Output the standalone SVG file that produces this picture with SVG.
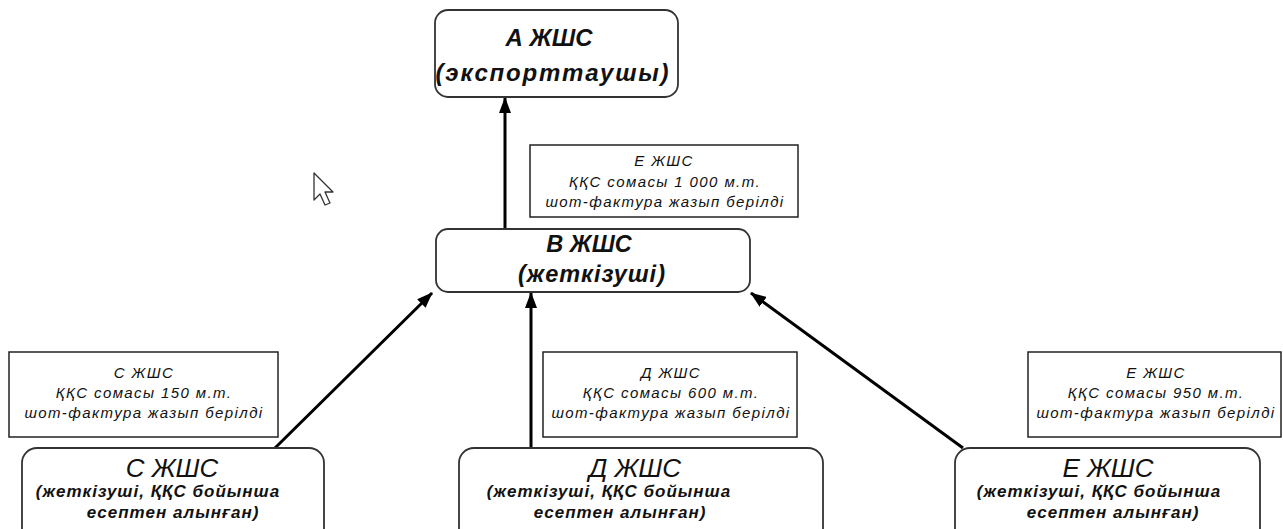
<svg xmlns="http://www.w3.org/2000/svg" width="1283" height="529" viewBox="0 0 1283 529">
<style>
.node{fill:#fff;stroke:#333;stroke-width:1.8}
.lbl{fill:#fff;stroke:#222;stroke-width:1.5}
.conn{stroke:#000;stroke-width:3;fill:none}
text{font-family:"Liberation Sans",Arial,sans-serif;font-style:italic;fill:#111;text-anchor:middle}
.big{font-size:24px;font-weight:bold}
.wide{letter-spacing:1.8px}
.mid{font-size:23.5px;font-weight:bold}
.midw{font-size:23.5px;font-weight:bold;letter-spacing:1px}
.head{font-size:26px}
.sub{font-size:17px;font-weight:bold;letter-spacing:1px}
.small{font-size:15px;letter-spacing:1.4px}
</style>
<defs>
<marker id="ah" markerUnits="userSpaceOnUse" markerWidth="16" markerHeight="12" refX="15" refY="6" orient="auto">
<path d="M0,0 L16,6 L0,12 z" fill="#000"/>
</marker>
</defs>
<rect width="1283" height="529" fill="#fff"/>
<g id="connectors">
<line class="conn" x1="505" y1="229" x2="505" y2="98" marker-end="url(#ah)"/>
<line class="conn" x1="275" y1="448" x2="432" y2="293" marker-end="url(#ah)"/>
<line class="conn" x1="531" y1="448" x2="531" y2="293" marker-end="url(#ah)"/>
<line class="conn" x1="963" y1="448" x2="751" y2="293" marker-end="url(#ah)"/>
</g>
<g id="nodeA">
<rect class="node" x="435" y="10" width="243" height="87" rx="13"/>
<text class="big" x="549" y="46">А ЖШС</text>
<text class="big wide" x="553" y="81">(экспорттаушы)</text>
</g>
<g id="nodeB">
<rect class="node" x="436" y="229" width="314" height="63" rx="12"/>
<text class="mid" x="589" y="252">В ЖШС</text>
<text class="midw" x="592" y="282">(жеткізуші)</text>
</g>
<g id="labelE_top">
<rect class="lbl" x="530" y="145" width="268" height="72"/>
<text class="small" x="664" y="166">Е ЖШС</text>
<text class="small" x="665" y="187">ҚҚС сомасы 1 000 м.т.</text>
<text class="small" x="665" y="207">шот-фактура жазып берілді</text>
</g>
<g id="labelC">
<rect class="lbl" x="9" y="352" width="269" height="85"/>
<text class="small" x="144" y="378">С ЖШС</text>
<text class="small" x="144" y="398">ҚҚС сомасы 150 м.т.</text>
<text class="small" x="144" y="418">шот-фактура жазып берілді</text>
</g>
<g id="labelD">
<rect class="lbl" x="543" y="352" width="254" height="85"/>
<text class="small" x="671" y="378">Д ЖШС</text>
<text class="small" x="671" y="398">ҚҚС сомасы 600 м.т.</text>
<text class="small" x="671" y="418">шот-фактура жазып берілді</text>
</g>
<g id="labelE">
<rect class="lbl" x="1028" y="352" width="253" height="85"/>
<text class="small" x="1156" y="378">Е ЖШС</text>
<text class="small" x="1156" y="398">ҚҚС сомасы 950 м.т.</text>
<text class="small" x="1156" y="418">шот-фактура жазып берілді</text>
</g>
<g id="nodeC">
<rect class="node" x="22" y="448" width="302" height="100" rx="15"/>
<text class="head" x="172" y="477">С ЖШС</text>
<text class="sub" x="158" y="497">(жеткізуші, ҚҚС бойынша</text>
<text class="sub" x="173" y="518">есептен алынған)</text>
</g>
<g id="nodeD">
<rect class="node" x="459" y="448" width="364" height="100" rx="15"/>
<text class="head" x="635" y="477">Д ЖШС</text>
<text class="sub" x="609" y="497">(жеткізуші, ҚҚС бойынша</text>
<text class="sub" x="620" y="518">есептен алынған)</text>
</g>
<g id="nodeE">
<rect class="node" x="955" y="448" width="305" height="100" rx="15"/>
<text class="head" x="1108" y="477">Е ЖШС</text>
<text class="sub" x="1099" y="497">(жеткізуші, ҚҚС бойынша</text>
<text class="sub" x="1113" y="518">есептен алынған)</text>
</g>
<g id="cursor">
<path d="M314,173 L314,200 L320,194 L325,205 L330,203 L325,192 L333,192 Z" fill="#fff" stroke="#333" stroke-width="1.3" stroke-linejoin="round"/>
</g>
</svg>
